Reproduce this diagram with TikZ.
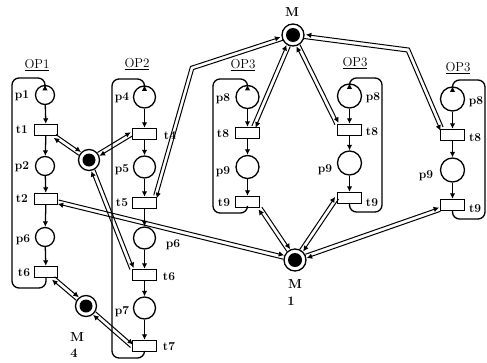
\documentclass[tikz,border=0pt]{standalone}
\usetikzlibrary{arrows.meta,calc}
\tikzset{
  pnode/.style={circle,draw,line width=1.3pt,inner sep=0pt,minimum size=22pt},
  tnode/.style={rectangle,draw,line width=1.4pt,inner sep=0pt,minimum width=24pt,minimum height=11pt},
  rnode/.style={circle,draw,line width=1.3pt,inner sep=0pt,minimum size=22pt},
  flow/.style={line width=1.3pt,-{Latex[length=5.5pt,width=5.5pt]}},
  dline/.style={line width=1pt,-{Latex[length=5.5pt,width=5.5pt]}},
  ret/.style={line width=1.3pt,-{Latex[length=5.5pt,width=5.5pt]},rounded corners=7pt},
  lbl/.style={font=\fontsize{12}{13}\selectfont\bfseries,inner sep=0pt},
  oplbl/.style={font=\fontsize{13}{14}\selectfont,inner sep=0pt},
  mlbl/.style={font=\fontsize{13}{14}\selectfont\bfseries,inner sep=0pt},
}
\newcommand\dlink[2]{%
  \path (#1) coordinate (dlA) (#2) coordinate (dlB);%
  \pgfmathanglebetweenpoints{\pgfpointanchor{dlA}{center}}{\pgfpointanchor{dlB}{center}}%
  \edef\dlang{\pgfmathresult}%
  \draw[dline,transform canvas={shift={(\dlang+90:2pt)}}] (#1) -- (#2);%
  \draw[dline,transform canvas={shift={(\dlang-90:2pt)}}] (#2) -- (#1);%
}
\begin{document}
\begin{tikzpicture}[x=1pt,y=-1pt]
\useasboundingbox (0,0) rectangle (487,362);

% ---------- OP1 column ----------
\node[pnode,minimum size=19pt] (p1) at (45,95) {};
\node[tnode,minimum width=23pt] (t1) at (46,130) {};
\node[pnode,minimum size=19pt] (p2) at (45,166) {};
\node[tnode,minimum width=23pt] (t2) at (46,199) {};
\node[pnode,minimum size=19pt] (p6a) at (45,237) {};
\node[tnode,minimum width=23pt] (t6a) at (46,272) {};
\draw[flow] (p1) -- (t1);
\draw[flow] (t1) -- (p2);
\draw[flow] (p2) -- (t2);
\draw[flow] (t2) -- (p6a);
\draw[flow] (p6a) -- (t6a);
\draw[ret] (t6a.south) -- (46,288) -- (12,288) -- (12,78) -- (45,78) [sharp corners] -- (p1.north);
\node[oplbl] (op1) at (37,65) {\underline{OP1}};
\node[lbl] (lp1) at (22,96) {p1};
\node[lbl] (lt1) at (22,130) {t1};
\node[lbl] (lp2) at (22,167) {p2};
\node[lbl] (lt2) at (22,199) {t2};
\node[lbl] (lp6a) at (23,240) {p6};
\node[lbl] (lt6a) at (24,273) {t6};

% ---------- OP2 column ----------
\node[pnode] (p4) at (144.5,97) {};
\node[tnode] (t4) at (144.5,134) {};
\node[pnode] (p5) at (144.5,167) {};
\node[tnode] (t5) at (144.5,203) {};
\node[pnode] (p6b) at (144.5,238) {};
\node[tnode] (t6b) at (144.5,275) {};
\node[pnode] (p7) at (144.5,308) {};
\node[tnode] (t7) at (144.5,346) {};
\draw[flow] (p4) -- (t4);
\draw[flow] (t4) -- (p5);
\draw[flow] (p5) -- (t5);
\draw[flow] (t5) -- (p6b);
\draw[flow] (p6b) -- (t6b);
\draw[flow] (t6b) -- (p7);
\draw[flow] (p7) -- (t7);
\draw[ret] (t7.south) -- (144.5,358) -- (112,358) -- (112,79) -- (144.5,79) [sharp corners] -- (p4.north);
\node[oplbl] (op2) at (137,64) {\underline{OP2}};
\node[lbl] (lp4) at (122,98) {p4};
\node[lbl] (lt4) at (170,136) {t4};
\node[lbl] (lp5) at (122,170) {p5};
\node[lbl] (lt5) at (122,203) {t5};
\node[lbl] (lp6b) at (173,245) {p6};
\node[lbl] (lt6b) at (169,277) {t6};
\node[lbl] (lp7) at (122,312) {p7};
\node[lbl] (lt7) at (169,347) {t7};

% ---------- OP3 column A ----------
\node[pnode,minimum size=23pt] (p8A) at (247.5,97) {};
\node[tnode] (t8A) at (247.5,133) {};
\node[pnode,minimum size=23pt] (p9A) at (247.5,167) {};
\node[tnode] (t9A) at (247.5,202) {};
\draw[flow] (p8A) -- (t8A);
\draw[flow] (t8A) -- (p9A);
\draw[flow] (p9A) -- (t9A);
\draw[ret] (t9A.south) -- (247.5,213) -- (213,213) -- (213,79) -- (247.5,79) [sharp corners] -- (p8A.north);
\node[oplbl] (op3A) at (243,65) {\underline{OP3}};
\node[lbl] (lp8A) at (223,99) {p8};
\node[lbl] (lt8A) at (223,134) {t8};
\node[lbl] (lp9A) at (223,172) {p9};
\node[lbl] (lt9A) at (224,203) {t9};

% ---------- OP3 column B ----------
\node[pnode,minimum size=24pt] (p8B) at (349.5,96) {};
\node[tnode] (t8B) at (349.5,130) {};
\node[pnode,minimum size=24pt] (p9B) at (349.5,163) {};
\node[tnode] (t9B) at (349.5,198) {};
\draw[flow] (p8B) -- (t8B);
\draw[flow] (t8B) -- (p9B);
\draw[flow] (p9B) -- (t9B);
\draw[ret] (t9B.south) -- (349.5,212) -- (382,212) -- (382,78) -- (349.5,78) [sharp corners] -- (p8B.north);
\node[oplbl] (op3B) at (355,63) {\underline{OP3}};
\node[lbl] (lp8B) at (373,98) {p8};
\node[lbl] (lt8B) at (372,132) {t8};
\node[lbl] (lp9B) at (325,170) {p9};
\node[lbl] (lt9B) at (372,203) {t9};

% ---------- OP3 column C ----------
\node[pnode,minimum size=24pt] (p8C) at (452.5,99) {};
\node[tnode] (t8C) at (452.5,135) {};
\node[pnode,minimum size=24pt] (p9C) at (452.5,170) {};
\node[tnode] (t9C) at (452.5,205) {};
\draw[flow] (p8C) -- (t8C);
\draw[flow] (t8C) -- (p9C);
\draw[flow] (p9C) -- (t9C);
\draw[ret] (t9C.south) -- (452.5,219) -- (485,219) -- (485,80) -- (452.5,80) [sharp corners] -- (p8C.north);
\node[oplbl] (op3C) at (458,68) {\underline{OP3}};
\node[lbl] (lp8C) at (476,102) {p8};
\node[lbl] (lt8C) at (475,138) {t8};
\node[lbl] (lp9C) at (426,176) {p9};
\node[lbl] (lt9C) at (475,209) {t9};

% ---------- resources ----------
\node[rnode] (Mtop) at (293,35) {};
\fill (Mtop) circle[radius=7pt];
\node[mlbl] (lMtop) at (292,12) {M};
\node[rnode] (M1) at (295,260) {};
\fill (M1) circle[radius=7pt];
\node[mlbl] (lM1a) at (295,284) {M};
\node[mlbl] (lM1b) at (291,301) {1};
\node[rnode,minimum size=21pt] (M3) at (89,160) {};
\fill (M3) circle[radius=6.5pt];
\node[rnode,minimum size=21pt] (M4) at (86,306) {};
\fill (M4) circle[radius=6.5pt];
\node[mlbl] (lM4a) at (77,337) {M};
\node[mlbl] (lM4b) at (74,353) {4};

% ---------- resource links (pairs of opposite arcs) ----------
\dlink{M3}{t1}
\dlink{M3}{t4.west}
\dlink{M3}{t6b.north west}
\dlink{M4}{t6a}
\dlink{M4}{t7.west}
\dlink{M1}{t2}
\dlink{M1}{t9A.south east}
\dlink{M1}{t9B.west}
\dlink{M1}{t9C}
\dlink{Mtop}{t8A.45}
\dlink{Mtop}{t8B.north west}
\coordinate (v1) at (192,68);
\coordinate (v2) at (408,50);
\draw[dline,transform canvas={shift={(1.5pt,-1.5pt)}}] (Mtop) -- (v1) -- (t5.30);
\draw[dline,transform canvas={shift={(-1.5pt,1.5pt)}}] (t5.30) -- (v1) -- (Mtop);
\draw[dline,transform canvas={shift={(-1.3pt,-1.9pt)}}] (Mtop) -- (v2) -- (t8C.150);
\draw[dline,transform canvas={shift={(1.3pt,1.9pt)}}] (t8C.150) -- (v2) -- (Mtop);
\end{tikzpicture}
\end{document}
